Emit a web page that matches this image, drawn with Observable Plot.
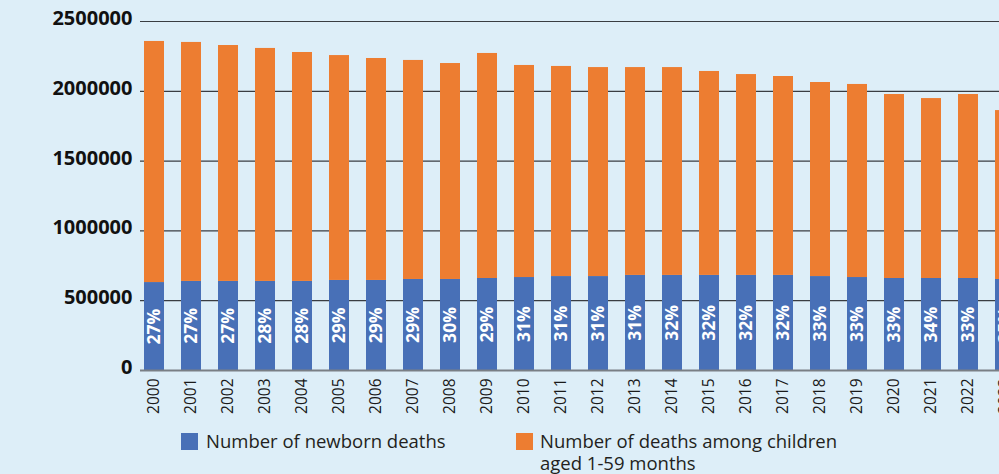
<!DOCTYPE html>
<html>
<head>
<meta charset="utf-8">
<script src="https://cdn.jsdelivr.net/npm/d3@7"></script>
<script src="https://cdn.jsdelivr.net/npm/@observablehq/plot@0.6"></script>
<style>
  html, body { margin: 0; padding: 0; background: #ddeef8; }
  #wrap { position: relative; width: 999px; height: 474px; overflow: hidden; background: #ddeef8; font-family: "Open Sans", sans-serif; }
  #chart { position: absolute; left: 0; top: 0; width: 1018px; }
  #chart svg { max-width: none !important; }
  .sw { position: absolute; width: 17px; height: 17px; }
  .lt { position: absolute; font-size: 18.5px; line-height: 22px; color: #231f20; white-space: nowrap; }
</style>
</head>
<body>
<div id="wrap">
  <div id="chart"></div>
  <div class="sw" id="sw1" style="left:181px; top:433px;"></div>
  <div class="lt" id="lt1" style="left:206px; top:430px;"></div>
  <div class="sw" id="sw2" style="left:516px; top:433px;"></div>
  <div class="lt" id="lt2" style="left:540px; top:430px;"></div>
</div>
<script>
const years = ["2000","2001","2002","2003","2004","2005","2006","2007","2008","2009","2010","2011",
               "2012","2013","2014","2015","2016","2017","2018","2019","2020","2021","2022","2023"];
const newbornDeaths = [630000,638000,638000,638000,638000,645000,645000,652000,652000,659000,666000,673000,
                       673000,681000,681000,681000,681000,681000,673000,666000,659000,659000,659000,652000];
const deaths1to59 = [1727000,1712000,1690000,1669000,1640000,1611000,1590000,1569000,1547000,1612000,1519000,1505000,
                     1497000,1489000,1489000,1461000,1439000,1425000,1390000,1383000,1318000,1289000,1318000,1210000];
const pctLabels = ["27%","27%","27%","28%","28%","29%","29%","29%","30%","29%","31%","31%",
                   "31%","31%","32%","32%","32%","32%","33%","33%","33%","34%","33%","35%"];
const yTicks = [0, 500000, 1000000, 1500000, 2000000, 2500000];
const seriesNames = ["Number of newborn deaths", "Number of deaths among children aged 1-59 months"];
const seriesColors = ["#4870b7", "#ed7d31"];

const rows = [];
years.forEach((yr, i) => {
  rows.push({year: yr, series: seriesNames[0], value: newbornDeaths[i]});
  rows.push({year: yr, series: seriesNames[1], value: deaths1to59[i]});
});
const labelRows = years.map((yr, i) => ({year: yr, mid: newbornDeaths[i] / 2, label: pctLabels[i]}));

const chart = Plot.plot({
  width: 1018,
  height: 420,
  marginLeft: 140,
  marginRight: 0,
  marginTop: 21,
  marginBottom: 50,
  style: {fontFamily: "'Open Sans', sans-serif", background: "transparent", overflow: "visible", maxWidth: "none"},
  x: {domain: years, paddingInner: 0.468, paddingOuter: 0.09, axis: null, label: null},
  y: {domain: [0, 2500000], axis: null, label: null},
  color: {domain: seriesNames, range: seriesColors},
  marks: [
    Plot.ruleY(yTicks.slice(1), {stroke: "#3a3d42", strokeWidth: 1.2}),
    Plot.barY(rows, Plot.stackY({x: "year", y: "value", fill: "series", order: seriesNames})),
    Plot.text(labelRows, {x: "year", y: "mid", text: "label", rotate: -90, fill: "white",
      fontSize: 17.5, fontWeight: "bold"}),
    Plot.ruleY([0], {stroke: "#7a7f85", strokeWidth: 2}),
    Plot.axisY({ticks: yTicks, tickFormat: d => String(d), tickSize: 0, tickPadding: 8,
      fontSize: 20, fontWeight: "bold", fill: "#111", dy: -3, label: null}),
    Plot.axisX({tickRotate: -90, tickSize: 0, tickPadding: 8, fontSize: 15.5, fill: "#1a1a1a", label: null})
  ]
});
document.getElementById("chart").appendChild(chart);

document.getElementById("sw1").style.background = seriesColors[0];
document.getElementById("sw2").style.background = seriesColors[1];
document.getElementById("lt1").textContent = seriesNames[0];
document.getElementById("lt2").innerHTML = "Number of deaths among children<br>aged 1-59 months";
</script>
</body>
</html>
